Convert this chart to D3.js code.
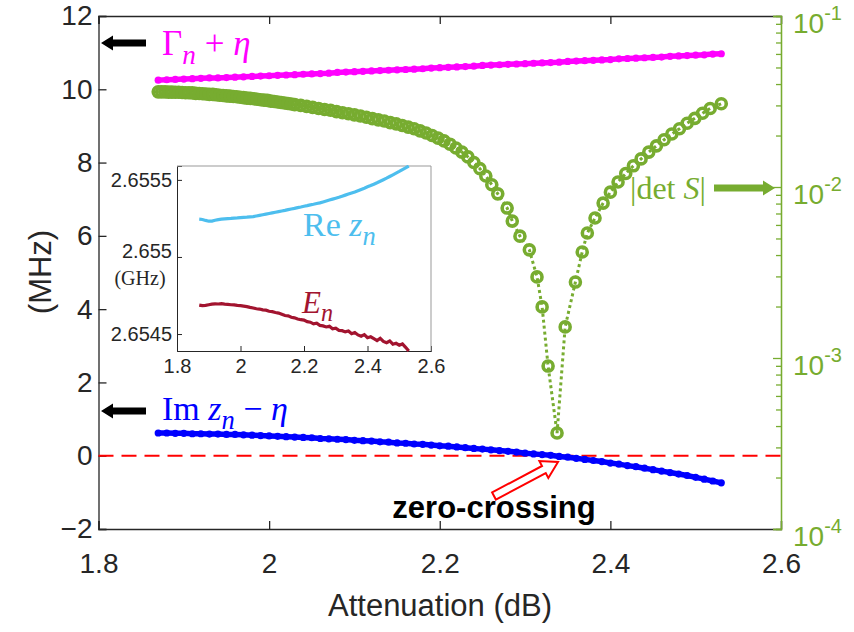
<!DOCTYPE html>
<html>
<head>
<meta charset="utf-8">
<script src="https://cdn.jsdelivr.net/npm/d3@7"></script>
<style>
  body { margin: 0; background: #fff; }
  text { font-family: "Liberation Sans", Arial, sans-serif; }
  .math { font-family: "Liberation Serif", "Times New Roman", serif; }
</style>
</head>
<body>
<svg id="chart" width="854" height="632"></svg>
<script>
// ---- data ----
// attenuation samples shared by Gamma, Im z and the inset
const attenuation = [1.87,1.88,1.89,1.90,1.91,1.92,1.93,1.94,1.95,1.96,1.97,1.98,1.99,2.00,2.01,2.02,2.03,2.04,2.05,2.06,2.07,2.08,2.09,2.10,2.11,2.12,2.13,2.14,2.15,2.16,2.17,2.18,2.19,2.20,2.21,2.22,2.23,2.24,2.25,2.26,2.27,2.28,2.29,2.30,2.31,2.32,2.33,2.34,2.35,2.36,2.37,2.38,2.39,2.40,2.41,2.42,2.43,2.44,2.45,2.46,2.47,2.48,2.49,2.50,2.51,2.52,2.53];

// Gamma_n + eta (MHz)
const gammaPlusEta = [10.25,10.26,10.27,10.28,10.29,10.30,10.31,10.31,10.32,10.33,10.34,10.35,10.36,10.37,10.38,10.39,10.40,10.41,10.42,10.43,10.44,10.46,10.47,10.48,10.49,10.50,10.51,10.52,10.53,10.54,10.55,10.56,10.58,10.59,10.60,10.61,10.62,10.63,10.65,10.66,10.67,10.68,10.69,10.70,10.71,10.72,10.73,10.74,10.76,10.77,10.78,10.79,10.80,10.81,10.83,10.84,10.85,10.86,10.87,10.88,10.90,10.91,10.92,10.93,10.94,10.96,10.97];

// Im z_n - eta (MHz)
const imZMinusEta = [0.62,0.62,0.61,0.61,0.60,0.60,0.59,0.59,0.58,0.58,0.57,0.56,0.55,0.54,0.53,0.52,0.51,0.50,0.49,0.47,0.46,0.45,0.44,0.42,0.41,0.40,0.38,0.37,0.35,0.34,0.32,0.31,0.29,0.27,0.26,0.24,0.22,0.20,0.18,0.16,0.14,0.12,0.10,0.07,0.05,0.03,0.01,-0.02,-0.04,-0.07,-0.10,-0.13,-0.16,-0.20,-0.23,-0.27,-0.30,-0.34,-0.38,-0.42,-0.46,-0.50,-0.54,-0.59,-0.64,-0.69,-0.74];

// |det S| (right log axis), own attenuation samples (denser at low attenuation)
const detAtt = [1.870,1.874,1.878,1.882,1.886,1.890,1.894,1.898,1.902,1.906,1.910,1.914,1.918,1.922,1.926,1.930,1.934,1.938,1.942,1.946,1.950,1.954,1.958,1.962,1.966,1.970,1.974,1.978,1.982,1.986,1.990,1.994,1.998,2.002,2.006,2.010,2.014,2.018,2.022,2.026,2.030,
  2.037,2.044,2.051,2.058,2.065,2.072,2.079,2.086,2.093,2.100,2.107,2.114,2.121,2.128,2.135,2.142,2.149,2.156,2.163,2.170,2.177,2.184,2.191,2.198,2.205,2.212,2.219,2.226,2.233,2.240,2.247,2.254,2.261,
  2.268,2.279,2.285,2.294,2.305,2.314,2.320,2.327,2.3375,2.347,2.359,2.367,2.373,2.382,2.3915,
  2.400,2.409,2.418,2.427,2.436,2.445,2.454,2.463,2.472,2.481,2.490,2.499,2.508,2.517,2.530];
const detS = [3.60e-2,3.60e-2,3.60e-2,3.59e-2,3.59e-2,3.58e-2,3.58e-2,3.57e-2,3.56e-2,3.56e-2,3.55e-2,3.53e-2,3.52e-2,3.51e-2,3.50e-2,3.48e-2,3.48e-2,3.46e-2,3.44e-2,3.43e-2,3.41e-2,3.40e-2,3.38e-2,3.37e-2,3.35e-2,3.33e-2,3.31e-2,3.30e-2,3.28e-2,3.26e-2,3.24e-2,3.22e-2,3.21e-2,3.18e-2,3.16e-2,3.14e-2,3.12e-2,3.10e-2,3.08e-2,3.06e-2,3.03e-2,
  3.00e-2,2.96e-2,2.92e-2,2.88e-2,2.84e-2,2.81e-2,2.76e-2,2.72e-2,2.68e-2,2.64e-2,2.60e-2,2.56e-2,2.51e-2,2.47e-2,2.43e-2,2.38e-2,2.34e-2,2.29e-2,2.24e-2,2.19e-2,2.13e-2,2.07e-2,2.00e-2,1.93e-2,1.86e-2,1.78e-2,1.69e-2,1.60e-2,1.50e-2,1.39e-2,1.28e-2,1.16e-2,1.03e-2,
  9.12e-3,7.53e-3,6.32e-3,5.16e-3,4.29e-3,2.98e-3,1.99e-3,8.97e-4,3.64e-4,1.52e-3,2.78e-3,4.17e-3,5.38e-3,6.59e-3,8.05e-3,
  9.33e-3,1.07e-2,1.20e-2,1.33e-2,1.46e-2,1.60e-2,1.74e-2,1.89e-2,2.04e-2,2.19e-2,2.36e-2,2.52e-2,2.70e-2,2.88e-2,3.07e-2];

// inset: Re z_n and E_n (GHz)
const reZ = [2.655245,2.655243,2.655237,2.655232,2.655233,2.655238,2.655242,2.655245,2.655247,2.655249,2.655250,2.655252,2.655253,2.655255,2.655257,2.655258,2.655260,2.655262,2.655266,2.655270,2.655274,2.655278,2.655282,2.655286,2.655290,2.655294,2.655298,2.655302,2.655307,2.655311,2.655315,2.655320,2.655324,2.655329,2.655333,2.655338,2.655342,2.655347,2.655351,2.655357,2.655363,2.655369,2.655375,2.655381,2.655387,2.655394,2.655401,2.655408,2.655415,2.655422,2.655430,2.655438,2.655446,2.655455,2.655463,2.655472,2.655481,2.655491,2.655501,2.655511,2.655522,2.655533,2.655544,2.655555,2.655567,2.655578,2.655590];
const eN = [2.654688,2.654684,2.654686,2.654690,2.654694,2.654696,2.654695,2.654697,2.654694,2.654692,2.654690,2.654689,2.654686,2.654684,2.654681,2.654678,2.654673,2.654669,2.654664,2.654662,2.654657,2.654655,2.654648,2.654645,2.654640,2.654636,2.654628,2.654620,2.654618,2.654609,2.654605,2.654598,2.654593,2.654590,2.654580,2.654577,2.654566,2.654570,2.654556,2.654553,2.654546,2.654550,2.654534,2.654538,2.654524,2.654522,2.654514,2.654520,2.654502,2.654510,2.654494,2.654486,2.654496,2.654476,2.654482,2.654470,2.654458,2.654472,2.654452,2.654444,2.654455,2.654434,2.654440,2.654428,2.654436,2.654414,2.654390];

const xTicks = [1.8, 2, 2.2, 2.4, 2.6];
const yTicks = [-2, 0, 2, 4, 6, 8, 10, 12];
const rightTicks = [1e-4, 1e-3, 1e-2, 1e-1];
const insetYTicks = [2.6545, 2.655, 2.6555];
const insetYLabels = ["2.6545", "2.655", "2.6555"];

// ---- colours ----
const axisColor = "#262626";
const green = "#77AC30";
const magenta = "#FF00FF";
const blue = "#0000FF";
const lightBlue = "#4DBEEE";
const darkRed = "#A2142F";

const svg = d3.select("#chart");

// main axes box
const mL = 98.5, mR = 781, mT = 16, mB = 529;
const x = d3.scaleLinear().domain([1.8, 2.6]).range([mL, mR]);
const y = d3.scaleLinear().domain([-2, 12]).range([mB, mT]);
const yR = d3.scaleLog().domain([1e-4, 1e-1]).range([mB, mT]);

// bottom axis
const gx = svg.append("g")
  .attr("transform", `translate(0,${mB})`)
  .call(d3.axisBottom(x).tickValues(xTicks).tickSize(-8).tickPadding(24)
    .tickFormat(d3.format("~g")));
// top edge ticks (no labels)
const gxTop = svg.append("g")
  .attr("transform", `translate(0,${mT})`)
  .call(d3.axisTop(x).tickValues(xTicks).tickSize(-8).tickFormat(""));
// left axis
const gy = svg.append("g")
  .attr("transform", `translate(${mL},0)`)
  .call(d3.axisLeft(y).tickValues(yTicks).tickSize(-8).tickPadding(6));

[gx, gxTop, gy].forEach(g => {
  g.select(".domain").attr("stroke", axisColor).attr("stroke-width", 1.3);
  g.selectAll(".tick line").attr("stroke", axisColor).attr("stroke-width", 1.3);
  g.selectAll("text").attr("fill", axisColor).style("font-size", "28px");
});

// right log axis in green: major + minor ticks
const minor = yR.ticks().filter(v => rightTicks.indexOf(v) < 0);
const gyR = svg.append("g")
  .attr("transform", `translate(${mR},0)`)
  .call(d3.axisRight(yR).tickValues(rightTicks).tickSize(-8).tickFormat(""));
const gyRMinor = svg.append("g")
  .attr("transform", `translate(${mR},0)`)
  .call(d3.axisRight(yR).tickValues(minor).tickSize(-5).tickFormat(""));
[gyR, gyRMinor].forEach(g => {
  g.select(".domain").attr("stroke", green).attr("stroke-width", 1.3);
  g.selectAll(".tick line").attr("stroke", green).attr("stroke-width", 1.3);
});
// 10^k labels
const rl = svg.append("g").selectAll("text")
  .data(rightTicks).enter().append("text")
  .attr("x", mR + 12)
  .attr("y", d => yR(d) + 17)
  .attr("fill", green)
  .style("font-size", "28px");
rl.append("tspan").text("10");
rl.append("tspan").attr("dy", -13).style("font-size", "20px")
  .text(d => "-" + Math.round(-Math.log10(d)));

// axis titles
svg.append("text")
  .attr("x", 440).attr("y", 616)
  .attr("text-anchor", "middle")
  .attr("fill", axisColor)
  .style("font-size", "31px")
  .text("Attenuation (dB)");
svg.append("text")
  .attr("transform", "translate(51,272) rotate(-90)")
  .attr("text-anchor", "middle")
  .attr("fill", axisColor)
  .style("font-size", "31px")
  .text("(MHz)");

// zero line
svg.append("line")
  .attr("x1", mL).attr("x2", mR)
  .attr("y1", y(0)).attr("y2", y(0))
  .attr("stroke", "#FF0000").attr("stroke-width", 2)
  .attr("stroke-dasharray", "15,8");

// Gamma + eta and Im z - eta: beaded lines
function beadLine(values, color) {
  const pts = attenuation.map((a, i) => [a, values[i]]);
  svg.append("path")
    .datum(pts)
    .attr("d", d3.line().x(d => x(d[0])).y(d => y(d[1])))
    .attr("fill", "none").attr("stroke", color).attr("stroke-width", 5.5);
  svg.append("g").selectAll("circle")
    .data(pts).enter().append("circle")
    .attr("cx", d => x(d[0])).attr("cy", d => y(d[1]))
    .attr("r", 3.6).attr("fill", color);
}
beadLine(gammaPlusEta, magenta);
beadLine(imZMinusEta, blue);

// |det S|: dotted line + open circles
const detPts = detAtt.map((a, i) => [a, detS[i]]);
svg.append("path")
  .datum(detPts)
  .attr("d", d3.line().x(d => x(d[0])).y(d => yR(d[1])))
  .attr("fill", "none").attr("stroke", green).attr("stroke-width", 3)
  .attr("stroke-dasharray", "3,3");
svg.append("g").selectAll("circle")
  .data(detPts).enter().append("circle")
  .attr("cx", d => x(d[0])).attr("cy", d => yR(d[1]))
  .attr("r", 5).attr("fill", "none")
  .attr("stroke", green).attr("stroke-width", 3.6);

// ---- inset ----
const iL = 177, iR = 431, iT = 166, iB = 351;
const ix = d3.scaleLinear().domain([1.8, 2.6]).range([iL, iR]);
const iy = d3.scaleLinear().domain([2.65439, 2.65559]).range([iB, iT]);
svg.append("rect")
  .attr("x", iL).attr("y", iT).attr("width", iR - iL).attr("height", iB - iT)
  .attr("fill", "#fff");
const gix = svg.append("g")
  .attr("transform", `translate(0,${iB})`)
  .call(d3.axisBottom(ix).tickValues(xTicks).tickSize(-5).tickPadding(8)
    .tickFormat(d3.format("~g")));
const giy = svg.append("g")
  .attr("transform", `translate(${iL},0)`)
  .call(d3.axisLeft(iy).tickValues(insetYTicks).tickSize(-5).tickPadding(5)
    .tickFormat((d, i) => insetYLabels[i]));
[gix, giy].forEach(g => {
  g.select(".domain").attr("stroke", axisColor);
  g.selectAll(".tick line").attr("stroke", axisColor);
  g.selectAll("text").attr("fill", axisColor).style("font-size", "20px");
});
// middle label sits a little higher to leave room for the unit
giy.selectAll(".tick text").filter(d => d === 2.655).attr("y", -6);
svg.append("path")
  .attr("d", `M${iL},${iT}H${iR}V${iB}`)
  .attr("fill", "none").attr("stroke", "#999");

svg.append("defs").append("clipPath").attr("id", "insetClip")
  .append("rect").attr("x", iL).attr("y", iT - 1)
  .attr("width", iR - iL).attr("height", iB - iT + 2);
const insetLine = d3.line().x((d, i) => ix(attenuation[i])).y(d => iy(d));
svg.append("path").datum(reZ)
  .attr("clip-path", "url(#insetClip)")
  .attr("d", insetLine)
  .attr("fill", "none").attr("stroke", lightBlue).attr("stroke-width", 3.2);
svg.append("path").datum(eN)
  .attr("clip-path", "url(#insetClip)")
  .attr("d", insetLine)
  .attr("fill", "none").attr("stroke", darkRed).attr("stroke-width", 3.2);
svg.append("text").attr("class", "math")
  .attr("x", 140).attr("y", 285)
  .attr("text-anchor", "middle").attr("fill", axisColor)
  .style("font-size", "20px").text("(GHz)");

// ---- annotations ----
function blockArrow(x0, y0, x1, y1, shaft, headLen, headW) {
  const dx = x1 - x0, dy = y1 - y0, L = Math.hypot(dx, dy);
  const ux = dx / L, uy = dy / L, nx = -uy, ny = ux;
  const bx = x1 - ux * headLen, by = y1 - uy * headLen;
  const p = [
    [x0 + nx * shaft / 2, y0 + ny * shaft / 2],
    [bx + nx * shaft / 2, by + ny * shaft / 2],
    [bx + nx * headW / 2, by + ny * headW / 2],
    [x1, y1],
    [bx - nx * headW / 2, by - ny * headW / 2],
    [bx - nx * shaft / 2, by - ny * shaft / 2],
    [x0 - nx * shaft / 2, y0 - ny * shaft / 2]
  ];
  return "M" + p.map(q => q.join(",")).join("L") + "Z";
}
svg.append("path").attr("d", blockArrow(146, 43, 101, 43, 7, 12, 15)).attr("fill", "#000");
svg.append("path").attr("d", blockArrow(146, 411, 101, 411, 7, 12, 15)).attr("fill", "#000");
svg.append("path").attr("d", blockArrow(714, 188, 775, 188, 7, 12, 15)).attr("fill", green);
svg.append("path").attr("d", blockArrow(494, 496, 558, 462, 8, 16, 19))
  .attr("fill", "#fff").attr("stroke", "#FF0000").attr("stroke-width", 2);

function mathLabel(xp, yp, color, size, parts) {
  const t = svg.append("text").attr("class", "math")
    .attr("x", xp).attr("y", yp).attr("fill", color).style("font-size", size + "px");
  parts.forEach(p => {
    const s = t.append("tspan").text(p.t);
    if (p.i) s.style("font-style", "italic");
    if (p.sub) s.attr("dy", size * 0.25).style("font-size", (size * 0.78) + "px");
    if (p.up) s.attr("dy", -size * 0.25);
  });
}
mathLabel(162, 55, magenta, 35, [{t: "Γ"}, {t: "n", i: true, sub: true}, {t: " + ", up: true}, {t: "η", i: true}]);
mathLabel(162, 420, blue, 34, [{t: "Im "}, {t: "z", i: true}, {t: "n", i: true, sub: true}, {t: " − ", up: true}, {t: "η", i: true}]);
mathLabel(303, 236, lightBlue, 34, [{t: "Re "}, {t: "z", i: true}, {t: "n", i: true, sub: true}]);
mathLabel(302, 313, darkRed, 31, [{t: "E", i: true}, {t: "n", i: true, sub: true}]);
mathLabel(630, 199, green, 32, [{t: "|det "}, {t: "S", i: true}, {t: "|"}]);

svg.append("text")
  .attr("x", 494).attr("y", 518)
  .attr("text-anchor", "middle")
  .attr("fill", "#000")
  .style("font-size", "31px").style("font-weight", "bold")
  .text("zero-crossing");
</script>
</body>
</html>
